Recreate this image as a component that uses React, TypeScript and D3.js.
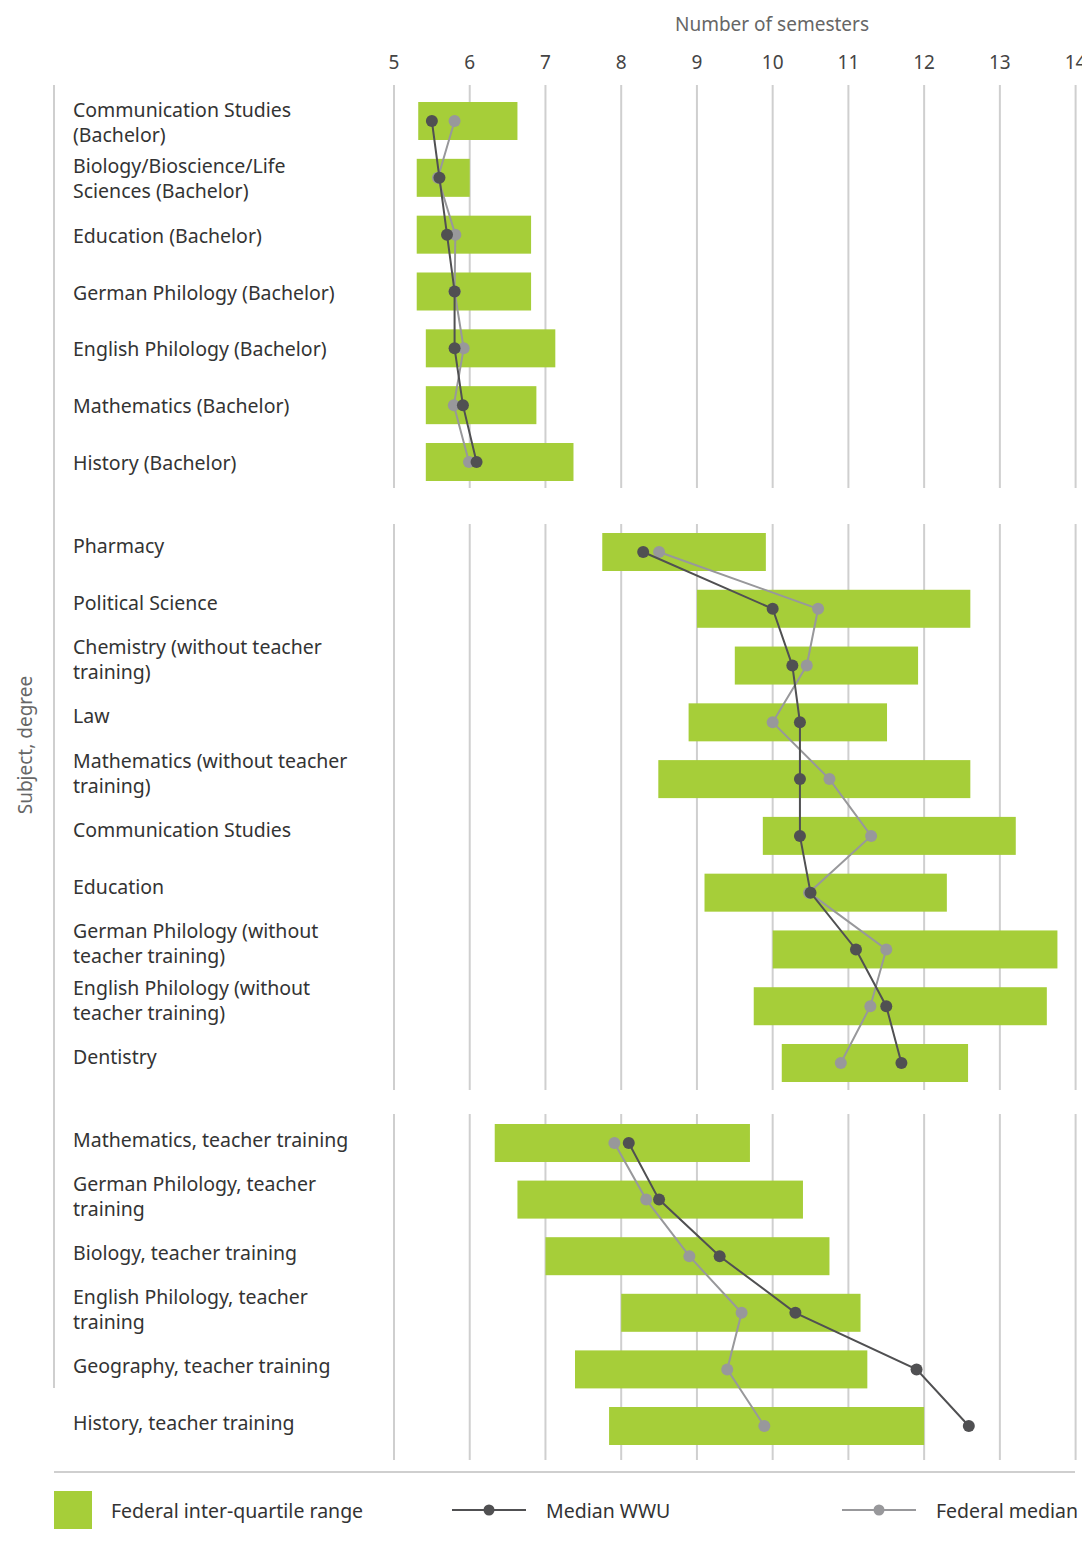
import React from "react";
import * as d3 from "d3";

const groups: string[][] = [
  [
    "Communication Studies\n(Bachelor)",
    "Biology/Bioscience/Life\nSciences (Bachelor)",
    "Education (Bachelor)",
    "German Philology (Bachelor)",
    "English Philology (Bachelor)",
    "Mathematics (Bachelor)",
    "History (Bachelor)",
  ],
  [
    "Pharmacy",
    "Political Science",
    "Chemistry (without teacher\ntraining)",
    "Law",
    "Mathematics (without teacher\ntraining)",
    "Communication Studies",
    "Education",
    "German Philology (without\nteacher training)",
    "English Philology (without\nteacher training)",
    "Dentistry",
  ],
  [
    "Mathematics, teacher training",
    "German Philology, teacher\ntraining",
    "Biology, teacher training",
    "English Philology, teacher\ntraining",
    "Geography, teacher training",
    "History, teacher training",
  ],
];

const q1: number[][] = [
  [5.32, 5.3, 5.3, 5.3, 5.42, 5.42, 5.42],
  [7.75, 9.0, 9.5, 8.89, 8.49, 9.87, 9.1, 10.0, 9.75, 10.12],
  [6.33, 6.63, 7.0, 8.0, 7.39, 7.84],
];
const q3: number[][] = [
  [6.63, 6.0, 6.81, 6.81, 7.13, 6.88, 7.37],
  [9.91, 12.61, 11.92, 11.51, 12.61, 13.21, 12.3, 13.76, 13.62, 12.58],
  [9.7, 10.4, 10.75, 11.16, 11.25, 12.0],
];
const medianWWU: number[][] = [
  [5.5, 5.6, 5.7, 5.8, 5.8, 5.91, 6.09],
  [8.29, 10.0, 10.26, 10.36, 10.36, 10.36, 10.5, 11.1, 11.5, 11.7],
  [8.1, 8.5, 9.3, 10.3, 11.9, 12.59],
];
const federalMedian: number[][] = [
  [5.8, 5.58, 5.81, 5.8, 5.92, 5.79, 5.99],
  [8.5, 10.6, 10.45, 10.0, 10.75, 11.3, 10.48, 11.5, 11.29, 10.9],
  [7.91, 8.33, 8.9, 9.59, 9.4, 9.89],
];
const ticks: number[] = [5, 6, 7, 8, 9, 10, 11, 12, 13, 14];

const W = 1082;
const H = 1542;
const GREEN = "#a6ce39";
const DARK = "#505052";
const LIGHT = "#98989b";
const GRID = "#cfcfcf";
const TEXT = "#333";
const FONT = "'Noto Sans', 'Open Sans', sans-serif";
const FS = 19.5;

// layout: first/last row centre, gridline extents and label offset for each group
const groupLayout = [
  { first: 121, last: 462, top: 85, bottom: 488, labelDy: 1 },
  { first: 552, last: 1063, top: 524, bottom: 1090, labelDy: -6 },
  { first: 1143, last: 1426, top: 1114, bottom: 1460, labelDy: -3.5 },
];
const BAR_H = 38;

export default function App() {
  const x = d3.scaleLinear().domain([5, 14]).range([394, 1075.6]);

  return (
    <svg width={W} height={H} style={{ display: "block", position: "absolute", left: 0, top: 0 }} fontFamily={FONT}>
      <rect width={W} height={H} fill="#fff" />
      {/* axis title */}
      <text x={772} y={31} textAnchor="middle" fontSize={19} fill="#666">
        Number of semesters
      </text>
      {ticks.map((t) => (
        <text key={t} x={x(t)} y={69} textAnchor="middle" fontSize={19} fill="#444">
          {t}
        </text>
      ))}
      {/* y axis title */}
      <text
        transform={`translate(32,745) rotate(-90)`}
        textAnchor="middle"
        fontSize={19}
        fill="#666"
      >
        Subject, degree
      </text>
      {/* left axis line */}
      <line x1={54} x2={54} y1={85} y2={1388} stroke={GRID} strokeWidth={2} />
      {/* bottom line */}
      <line x1={54} x2={1075} y1={1472} y2={1472} stroke={GRID} strokeWidth={2} />

      {groups.map((labels, gi) => {
        const L = groupLayout[gi];
        const y = d3
          .scalePoint<number>()
          .domain(labels.map((_, i) => i))
          .range([L.first, L.last]);
        const medLine = d3
          .line<number>()
          .x((v) => x(v))
          .y((_, i) => y(i) as number);
        return (
          <g key={gi}>
            {ticks.map((t) => (
              <line key={t} x1={x(t)} x2={x(t)} y1={L.top} y2={L.bottom} stroke={GRID} strokeWidth={2} />
            ))}
            {labels.map((lab, i) => {
              const cy = y(i) as number;
              const lines = lab.split("\n");
              const lh = 25;
              const y0 = cy + 7 + L.labelDy - ((lines.length - 1) * lh) / 2;
              return (
                <g key={i}>
                  <rect
                    x={x(q1[gi][i])}
                    y={cy - BAR_H / 2}
                    width={x(q3[gi][i]) - x(q1[gi][i])}
                    height={BAR_H}
                    fill={GREEN}
                  />
                  <text x={73} y={y0} fontSize={FS} fill={TEXT}>
                    {lines.map((ln, k) => (
                      <tspan key={k} x={73} y={y0 + k * lh}>
                        {ln}
                      </tspan>
                    ))}
                  </text>
                </g>
              );
            })}
            <path d={medLine(federalMedian[gi]) || ""} fill="none" stroke={LIGHT} strokeWidth={2} />
            {federalMedian[gi].map((v, i) => (
              <circle key={i} cx={x(v)} cy={y(i) as number} r={6} fill={LIGHT} />
            ))}
            <path d={medLine(medianWWU[gi]) || ""} fill="none" stroke={DARK} strokeWidth={2} />
            {medianWWU[gi].map((v, i) => (
              <circle key={i} cx={x(v)} cy={y(i) as number} r={6} fill={DARK} />
            ))}
          </g>
        );
      })}

      {/* legend */}
      <rect x={54} y={1491} width={38} height={38} fill={GREEN} />
      <text x={111} y={1518} fontSize={FS} fill={TEXT}>
        Federal inter-quartile range
      </text>
      <line x1={452} x2={526} y1={1510} y2={1510} stroke={DARK} strokeWidth={2} />
      <circle cx={489} cy={1510} r={5.5} fill={DARK} />
      <text x={546} y={1518} fontSize={FS} fill={TEXT}>
        Median WWU
      </text>
      <line x1={842} x2={916} y1={1510} y2={1510} stroke={LIGHT} strokeWidth={2} />
      <circle cx={879} cy={1510} r={5.5} fill={LIGHT} />
      <text x={936} y={1518} fontSize={FS} fill={TEXT}>
        Federal median
      </text>
    </svg>
  );
}
